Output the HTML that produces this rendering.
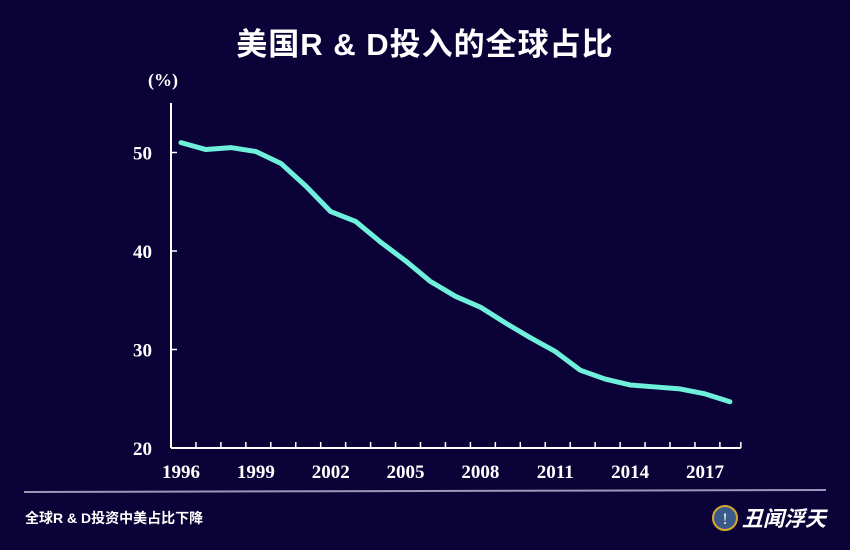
<!DOCTYPE html>
<html><head><meta charset="utf-8"><style>
body{margin:0;background:#0b0337;}
svg{display:block}
text{font-family:"Liberation Serif","Noto Serif CJK SC",serif;fill:#fff}
.cjk{font-family:"Liberation Sans","Noto Sans CJK SC",sans-serif;font-weight:bold}
</style></head><body>
<svg width="850" height="550">
<rect width="850" height="550" fill="#0b0337"/>
<text class="cjk" x="425" y="55" font-size="31" letter-spacing="1" text-anchor="middle">美国R &amp; D投入的全球占比</text>
<text x="163" y="86" font-size="18" font-weight="bold" text-anchor="middle">(%)</text>
<g id="axes"></g>
<path id="line" fill="none" stroke="#6ef0dc" stroke-width="5" stroke-linejoin="round" stroke-linecap="round"/>
<line x1="24" y1="492" x2="826" y2="490" stroke="#9a98b8" stroke-width="2"/>
<text class="cjk" x="25" y="523" font-size="14">全球R &amp; D投资中美占比下降</text>
<g>
<circle cx="725" cy="518" r="12" fill="#3a5a8a" stroke="#d9a630" stroke-width="2"/>
<text x="725" y="524" font-size="16" text-anchor="middle">!</text>
<text class="cjk" x="742" y="526" font-size="21" font-style="italic">丑闻浮天</text>
</g>
</svg>
<script>
const years=[1996,1997,1998,1999,2000,2001,2002,2003,2004,2005,2006,2007,2008,2009,2010,2011,2012,2013,2014,2015,2016,2017,2018];
const share=[51.0,50.3,50.5,50.1,48.9,46.6,44.0,43.0,40.9,39.0,36.9,35.4,34.3,32.7,31.2,29.8,27.9,27.0,26.4,26.2,26.0,25.5,24.7];
const yTicks=[20,30,40,50];
const xLabels=[1996,1999,2002,2005,2008,2011,2014,2017];
const ns="http://www.w3.org/2000/svg";
const x0=171,step=24.95,x=yr=>x0+10+(yr-years[0])*step;
const y=v=>448-(v-20)*9.85;
const ax=document.getElementById('axes');
function mk(t,a){const e=document.createElementNS(ns,t);for(const k in a)e.setAttribute(k,a[k]);ax.appendChild(e);return e;}
let e=mk('line',{x1:x0,y1:103,x2:x0,y2:448,stroke:'#fff','stroke-width':2});


const xEnd=x0+years.length*step-4;
e=mk('line',{x1:x0,y1:448,x2:xEnd,y2:448,stroke:'#fff','stroke-width':2});


for(let i=1;i<=years.length;i++){const tx=Math.min(x0+i*step,xEnd);e=mk('line',{x1:tx,y1:448,x2:tx,y2:442,stroke:'#fff','stroke-width':1.5});

}
yTicks.forEach(v=>{e=mk('line',{x1:x0,y1:y(v),x2:x0+6,y2:y(v),stroke:'#fff','stroke-width':1.5});


e=mk('text',{x:152,y:y(v)+7,'font-size':19,'font-weight':'bold','text-anchor':'end'});e.textContent=v;

});
xLabels.forEach(v=>{e=mk('text',{x:x(v),y:478,'font-size':19,'font-weight':'bold','text-anchor':'middle'});e.textContent=v;

});
document.getElementById('line').setAttribute('d',years.map((yr,i)=>(i?'L':'M')+x(yr)+','+y(share[i])).join(''));
</script>
</body></html>
